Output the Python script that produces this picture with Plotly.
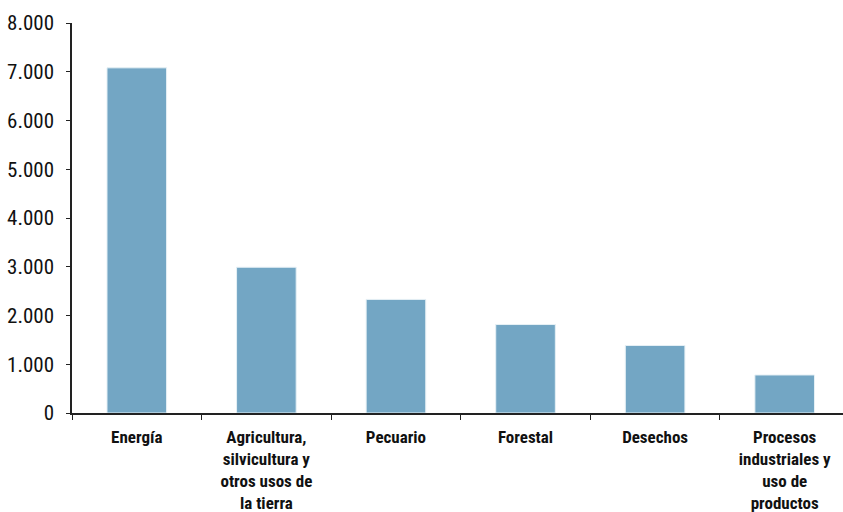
import plotly.graph_objects as go

categories = [
    "Energía",
    "Agricultura,<br>silvicultura y<br>otros usos de<br>la tierra",
    "Pecuario",
    "Forestal",
    "Desechos",
    "Procesos<br>industriales y<br>uso de<br>productos",
]
values = [7080, 2990, 2330, 1815, 1385, 780]
y_ticks = [0, 1000, 2000, 3000, 4000, 5000, 6000, 7000, 8000]

FONT = "Roboto Condensed, Open Sans Condensed, sans-serif"

fig = go.Figure(
    go.Bar(
        x=categories,
        y=values,
        width=0.46,
        marker=dict(color="#73A6C4", line=dict(color="#E6F0F5", width=1)),
    )
)

fig.update_layout(
    width=843,
    height=512,
    margin=dict(l=72, r=0, t=23, b=99),
    paper_bgcolor="white",
    plot_bgcolor="white",
    separators=",.",
    showlegend=False,
    font=dict(family=FONT, color="#111111"),
)

fig.update_yaxes(
    range=[0, 8000],
    tickvals=y_ticks,
    tickformat=",.0f",
    showgrid=False,
    zeroline=False,
    showline=True,
    linecolor="#222222",
    linewidth=1.5,
    ticks="outside",
    ticklen=4,
    tickcolor="#222222",
    ticklabelstandoff=8,
    automargin=False,
    tickfont=dict(family=FONT, size=21, color="#111111"),
)

fig.update_xaxes(
    type="category",
    range=[-0.5, 5.45],
    tickson="boundaries",
    showgrid=False,
    showline=True,
    linecolor="#222222",
    linewidth=1.5,
    ticks="outside",
    ticklen=5,
    tickcolor="#222222",
    ticklabelstandoff=8,
    automargin=False,
    tickfont=dict(family=FONT, size=17, color="#111111", weight="bold"),
    tickangle=0,
)

fig.write_html("out.html")
